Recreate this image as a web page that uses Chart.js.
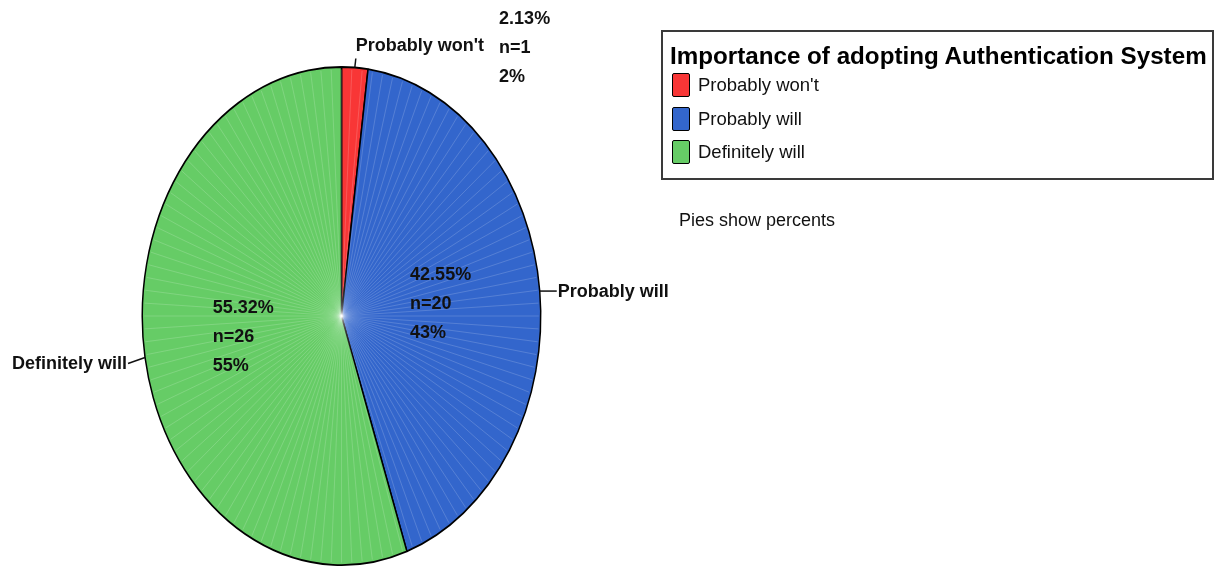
<!DOCTYPE html>
<html>
<head>
<meta charset="utf-8">
<script src="https://cdn.jsdelivr.net/npm/chart.js@4.4.0/dist/chart.umd.min.js"></script>
<style>
  body { margin: 0; background: #fff; }
  #wrap { position: relative; width: 1215px; height: 567px; overflow: hidden; }
  #pie { position: absolute; left: 0; top: 0; }
  .legend {
    position: absolute; left: 661px; top: 30px; width: 549px; height: 146px;
    border: 2px solid #3a3a3a; font-family: "Liberation Sans", Arial, sans-serif;
  }
  .legend .title {
    position: absolute; left: 7px; top: 10px; font-weight: bold; font-size: 24.2px;
    white-space: nowrap; color: #000;
  }
  .legend .item { position: absolute; left: 9px; height: 24px; white-space: nowrap; }
  .legend .sw {
    position: absolute; left: 0; top: 0; width: 16px; height: 22px;
    border: 1.5px solid #000; border-radius: 2px;
  }
  .legend .lab { position: absolute; left: 26px; top: 1px; font-size: 18.5px; color: #111; line-height: 22px; }
  .note {
    position: absolute; left: 679px; top: 210px; font-size: 18px; color: #111;
    font-family: "Liberation Sans", Arial, sans-serif; white-space: nowrap;
  }
</style>
</head>
<body>
<div id="wrap">
  <canvas id="pie" width="1215" height="567"></canvas>
  <div class="legend" id="legend"></div>
  <div class="note">Pies show percents</div>
</div>
<script>
// dados
const categories = ["Probably won't", "Probably will", "Definitely will"];
const counts = [1, 20, 26];
const percents = [2.13, 42.55, 55.32];
const roundedPercents = [2, 43, 55];
const sliceColors = ["#f83636", "#3366cc", "#66cc66"];
const legendTitle = "Importance of adopting Authentication System";

// o SPSS desenha a pizza achatada (elipse), então esticamos no eixo y
const yStretch = 1.25;
const nLines = 120;

// monta a legenda em html
const legend = document.getElementById("legend");
legend.innerHTML =
  `<div class="title">${legendTitle}</div>` +
  categories
    .map(
      (c, i) =>
        `<div class="item" style="top:${41 + i * 33.5}px">` +
        `<div class="sw" style="background:${sliceColors[i]}"></div>` +
        `<div class="lab">${c}</div></div>`
    )
    .join("");

function ellipsePoint(arc, angle, frac) {
  return {
    x: arc.x + Math.cos(angle) * arc.outerRadius * frac,
    y: arc.y + Math.sin(angle) * arc.outerRadius * frac * yStretch,
  };
}

const ellipsePlugin = {
  id: "ellipsePie",
  beforeDatasetsDraw(chart) {
    const arc = chart.getDatasetMeta(0).data[0];
    const ctx = chart.ctx;
    ctx.save();
    ctx.translate(arc.x, arc.y);
    ctx.scale(1, yStretch);
    ctx.translate(-arc.x, -arc.y);
  },
  afterDatasetsDraw(chart) {
    const ctx = chart.ctx;
    const arcs = chart.getDatasetMeta(0).data;
    const a0 = arcs[0];

    // linhas radiais claras, como no original
    ctx.strokeStyle = "rgba(255,255,255,0.3)";
    ctx.lineWidth = 0.5;
    ctx.beginPath();
    for (let i = 0; i < nLines; i++) {
      const ang = -Math.PI / 2 + (i * 2 * Math.PI) / nLines;
      ctx.moveTo(a0.x, a0.y);
      ctx.lineTo(a0.x + Math.cos(ang) * (a0.outerRadius - 2), a0.y + Math.sin(ang) * (a0.outerRadius - 2));
    }
    ctx.stroke();
    ctx.restore();

    ctx.save();
    ctx.font = "bold 18px 'Liberation Sans', Arial, sans-serif";
    ctx.fillStyle = "#111";
    ctx.strokeStyle = "#111";
    ctx.lineWidth = 1.5;
    ctx.textBaseline = "middle";
    const gap = 29;

    arcs.forEach((arc, i) => {
      const mid = (arc.startAngle + arc.endAngle) / 2;
      const lines = [percents[i].toFixed(2) + "%", "n=" + counts[i], roundedPercents[i] + "%"];
      const edge = ellipsePoint(arc, mid, 1);

      if (percents[i] < 5) {
        // fatia pequena: rótulo e valores por fora, em cima
        ctx.beginPath();
        ctx.moveTo(edge.x, edge.y);
        ctx.lineTo(edge.x + 1, edge.y - 9);
        ctx.stroke();
        ctx.textAlign = "left";
        const ty = edge.y - 21;
        ctx.fillText(categories[i], edge.x + 1, ty);
        const vx = edge.x + 1 + ctx.measureText(categories[i]).width + 15;
        lines.forEach((t, k) => ctx.fillText(t, vx, ty - gap + 2 + k * gap));
        return;
      }

      // valores dentro da fatia
      const p = ellipsePoint(arc, mid, 0.5);
      const w = Math.max(...lines.map((t) => ctx.measureText(t).width));
      ctx.textAlign = "left";
      lines.forEach((t, k) => ctx.fillText(t, p.x - w / 2, p.y + (k - 1) * gap));

      // rótulo da categoria por fora
      const right = Math.cos(mid) >= 0;
      const lx = edge.x + (right ? 17 : -17);
      const ly = edge.y + (right ? 0 : 6);
      ctx.beginPath();
      ctx.moveTo(edge.x, edge.y);
      ctx.lineTo(lx, ly);
      ctx.stroke();
      ctx.textAlign = right ? "left" : "right";
      ctx.fillText(categories[i], lx + (right ? 1 : -1), ly + 1);
    });
    ctx.restore();
  },
};

new Chart(document.getElementById("pie").getContext("2d"), {
  type: "pie",
  data: {
    labels: categories,
    datasets: [
      {
        data: counts,
        backgroundColor: sliceColors,
        borderColor: "#000",
        borderWidth: 1.5,
        clip: false,
      },
    ],
  },
  options: {
    responsive: false,
    animation: false,
    events: [],
    layout: { padding: { left: 141, right: 673, top: 116, bottom: 51 } },
    plugins: {
      legend: { display: false },
      tooltip: { enabled: false },
    },
  },
  plugins: [ellipsePlugin],
});
</script>
</body>
</html>
